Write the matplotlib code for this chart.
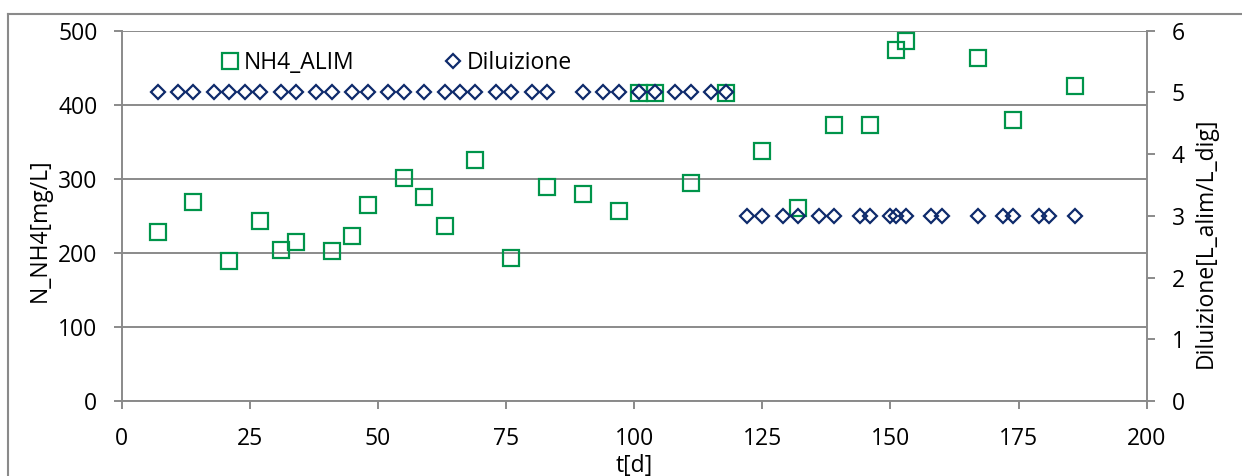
import matplotlib
matplotlib.use("Agg")
import matplotlib.pyplot as plt
from matplotlib.lines import Line2D

# ---- data ----
nh4_days = [7, 14, 21, 27, 31, 34, 41, 45, 48, 55, 59, 63, 69, 76, 83, 90, 97,
            101, 104, 111, 118, 125, 132, 139, 146, 151, 153, 167, 174, 186]
nh4_values = [228, 269, 189, 243, 204, 215, 202, 223, 264, 301, 276, 236, 326, 193,
              289, 280, 256, 416, 416, 295, 416, 337, 260, 372, 372, 474, 486, 463,
              379, 425]

dil_days = [7, 11, 14, 18, 21, 24, 27, 31, 34, 38, 41, 45, 48, 52, 55, 59, 63, 66,
            69, 73, 76, 80, 83, 90, 94, 97, 101, 104, 108, 111, 115, 118,
            122, 125, 129, 132, 136, 139, 144, 146, 150, 151, 153, 158, 160, 167,
            172, 174, 179, 181, 186]
dil_values = [5] * 32 + [3] * 19

x_ticks = [0, 25, 50, 75, 100, 125, 150, 175, 200]
y1_ticks = [0, 100, 200, 300, 400, 500]
y2_ticks = [0, 1, 2, 3, 4, 5, 6]

# ---- style ----
plt.rcParams['font.family'] = ['Open Sans', 'DejaVu Sans']
FS = 16.5
GREEN = "#00944A"
NAVY = "#0E2A6B"
GRAY = "#8A8A8A"

W, H = 1242, 476
fig = plt.figure(figsize=(W / 100, H / 100), dpi=100)

L, R, T, B = 121.7, 1146.7, 30.7, 401.0
ax = fig.add_axes([L / W, 1 - B / H, (R - L) / W, (B - T) / H])
ax2 = ax.twinx()

# outer border of the chart area
fig.add_artist(Line2D([8 / W, 8 / W], [0, 1 - 14 / H], transform=fig.transFigure,
                      color=GRAY, lw=1.5))
fig.add_artist(Line2D([8 / W, 1], [1 - 14 / H, 1 - 14 / H], transform=fig.transFigure,
                      color=GRAY, lw=1.5))

h1, = ax.plot(nh4_days, nh4_values, linestyle="none", marker="s", ms=11.2,
              mfc="none", mec=GREEN, mew=1.6, zorder=3, label="NH4_ALIM")
h2, = ax2.plot(dil_days, dil_values, linestyle="none", marker="D", ms=7.6,
               mfc="none", mec=NAVY, mew=1.6, zorder=3, label="Diluizione")

ax.set_xlim(0, 200)
ax.set_ylim(0, 500)
ax2.set_ylim(0, 6)
ax.set_xticks(x_ticks)
ax.set_yticks(y1_ticks)
ax2.set_yticks(y2_ticks)

ax.yaxis.grid(True, color=GRAY, lw=1.4)
ax.set_axisbelow(True)

for a in (ax, ax2):
    for s in a.spines.values():
        s.set_color(GRAY)
        s.set_linewidth(1.4)
    a.spines['top'].set_visible(False)
ax.spines['right'].set_visible(False)
ax2.spines['left'].set_visible(False)
ax2.spines['bottom'].set_visible(False)

ax.tick_params(axis='both', direction='out', length=6, width=1.4, color=GRAY,
               labelsize=FS, labelcolor="black")
ax.tick_params(axis='y', pad=11.5)
ax.tick_params(axis='x', pad=12.5)
ax2.tick_params(axis='y', direction='out', length=6, width=1.4, color=GRAY,
                labelsize=FS, labelcolor="black", pad=12)

ax.set_xlabel("t[d]", fontsize=FS)
ax.xaxis.set_label_coords(0.5, -0.142)
ax.set_ylabel("N_NH4[mg/L]", fontsize=FS)
ax.yaxis.set_label_coords(-0.068, 0.462)
ax2.set_ylabel("Diluizione[L_alim/L_dig]", fontsize=FS)
ax2.yaxis.set_label_coords(1.046, 0.427)

ax2.legend(handles=[h1, h2], loc="center left",
           bbox_to_anchor=(221 / W, 1 - 62.7 / H), bbox_transform=fig.transFigure,
           ncol=2, frameon=False, fontsize=FS, handlelength=0.8,
           handletextpad=0.2, columnspacing=3.9, borderpad=0, borderaxespad=0)

fig.savefig("out.png", dpi=100)
